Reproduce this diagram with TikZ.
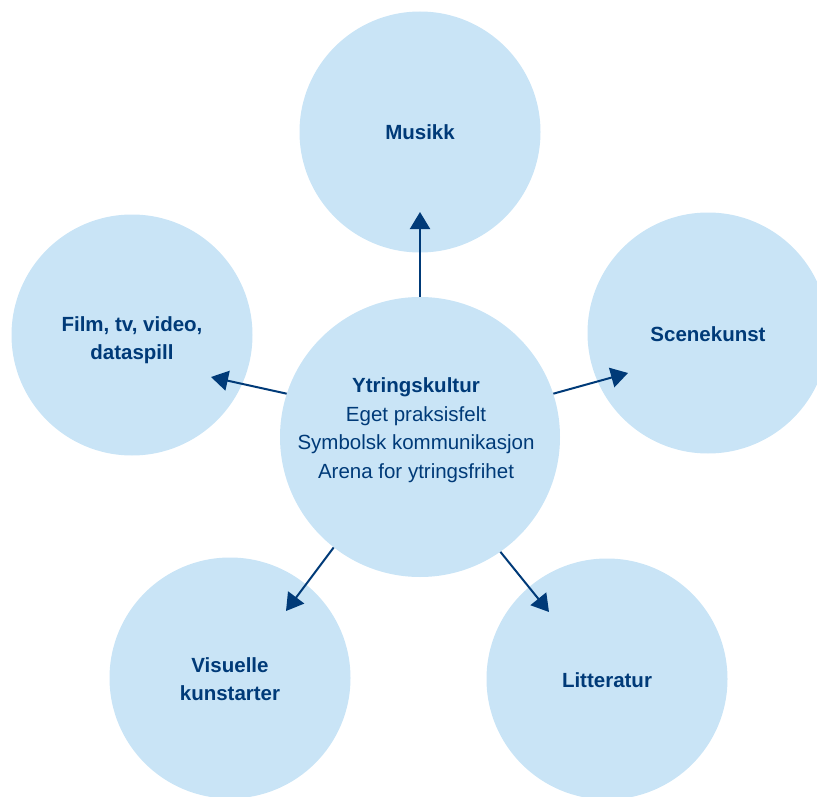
\documentclass[tikz,border=0pt]{standalone}
\usepackage{fontspec}
\setmainfont{Liberation Sans}
\usetikzlibrary{arrows.meta}
\definecolor{bubble}{RGB}{201,228,246}
\definecolor{ink}{RGB}{0,58,120}
\tikzset{
  outer/.style={circle,fill=bubble,draw=none,inner sep=0pt,minimum size=241pt},
  outertext/.style={text=ink,align=center,inner sep=0pt,font=\fontsize{20.5}{28.5}\selectfont\bfseries},
  hub/.style={circle,fill=bubble,draw=none,inner sep=0pt,minimum size=280pt},
  hubtext/.style={text=ink,align=center,font=\fontsize{20.5}{28.5}\selectfont,inner sep=0pt},
  link/.style={draw=ink,line width=2pt,-{Triangle[length=17pt,width=20pt]}}
}
\begin{document}
\begin{tikzpicture}[x=1pt,y=-1pt]
\useasboundingbox (0,0) rectangle (817,797);
\clip (0,0) rectangle (817,797);
\node[outer] (mus) at (420,132) {};
\node[outer] (scene) at (708,333) {};
\node[outer] (film) at (132,335) {};
\node[outer] (vis) at (230,678) {};
\node[outer] (lit) at (607,679) {};
\node[outertext] (musT) at (420,132) {Musikk};
\node[outertext] (sceneT) at (708,334) {Scenekunst};
\node[outertext] (filmT) at (132,340) {Film, tv, video,\\dataspill};
\node[outertext] (visT) at (230,679) {Visuelle\\kunstarter};
\node[outertext] (litT) at (607,680) {Litteratur};
\node[hub] (c) at (420,437) {};
\node[hubtext] (ctext) at (416,430) {\textbf{Ytringskultur}\\Eget praksisfelt\\Symbolsk kommunikasjon\\Arena for ytringsfrihet};
\coordinate (tmus) at (420,212);
\coordinate (tscene) at (628,373);
\coordinate (tfilm) at (211,377);
\coordinate (tvis) at (286,611);
\coordinate (tlit) at (549,612);
\draw[link] (c.90) -- (tmus);
\draw[link] (c.18.7) -- (tscene);
\draw[link] (c.162.6) -- (tfilm);
\draw[link] (c.232.2) -- (tvis);
\draw[link] (c.305.2) -- (tlit);
\end{tikzpicture}
\end{document}
